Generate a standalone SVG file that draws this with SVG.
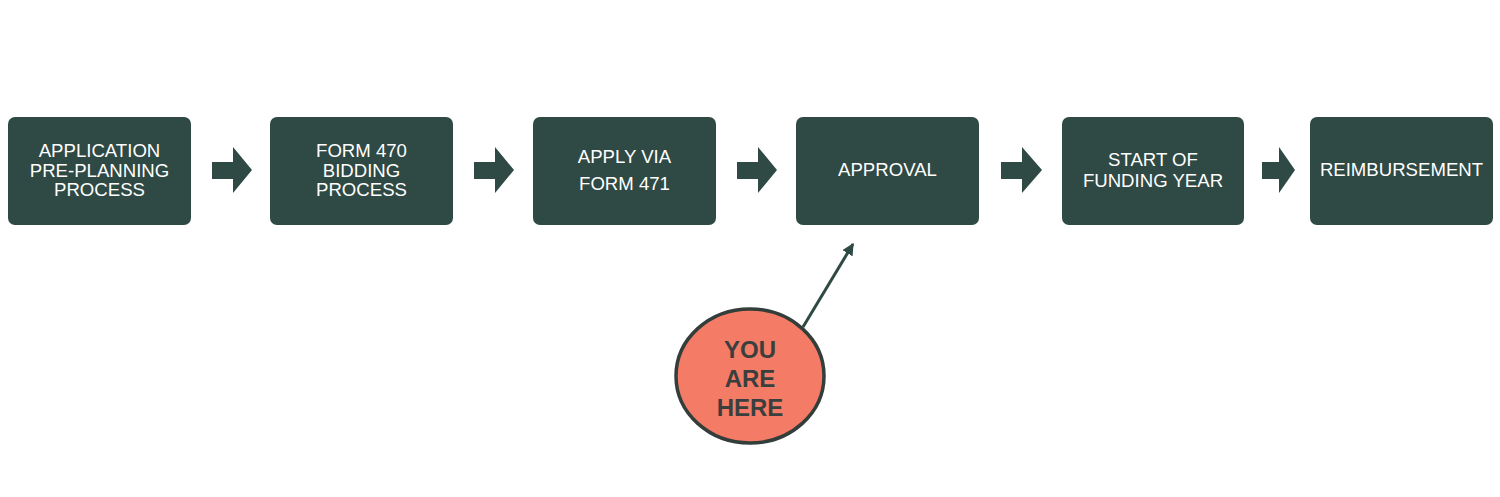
<svg xmlns="http://www.w3.org/2000/svg" width="1500" height="497" viewBox="0 0 1500 497">
<style>
.box{fill:#2f4944;}
.t{font-family:"Liberation Sans",Arial,sans-serif;font-size:18.6px;fill:#ffffff;text-anchor:middle;}
.blk{fill:#2f4944;}
.y{font-family:"Liberation Sans",Arial,sans-serif;font-size:24px;font-weight:bold;fill:#3a3f3d;text-anchor:middle;}
</style>
<defs>
<marker id="ah" viewBox="0 0 10 10" refX="9" refY="5" markerWidth="4" markerHeight="4" orient="auto"><path d="M0,0 L10,5 L0,10 z" fill="#2f4944"/></marker>
</defs>
<rect width="1500" height="497" fill="#ffffff"/>
<g id="n1"><rect class="box" x="8" y="117" width="183" height="108" rx="7"/>
<text class="t" x="99.5" y="157">APPLICATION</text><text class="t" x="99.5" y="177">PRE-PLANNING</text><text class="t" x="99.5" y="196">PROCESS</text></g>
<g id="n2"><rect class="box" x="270" y="117" width="183" height="108" rx="7"/>
<text class="t" x="361.5" y="157">FORM 470</text><text class="t" x="361.5" y="177">BIDDING</text><text class="t" x="361.5" y="196">PROCESS</text></g>
<g id="n3"><rect class="box" x="533" y="117" width="183" height="108" rx="7"/>
<text class="t" x="624.5" y="163">APPLY VIA</text><text class="t" x="624.5" y="190">FORM 471</text></g>
<g id="n4"><rect class="box" x="796" y="117" width="183" height="108" rx="7"/>
<text class="t" x="887.5" y="176">APPROVAL</text></g>
<g id="n5"><rect class="box" x="1062" y="117" width="182" height="108" rx="7"/>
<text class="t" x="1153" y="166">START OF</text><text class="t" x="1153" y="187">FUNDING YEAR</text></g>
<g id="n6"><rect class="box" x="1310" y="117" width="183" height="108" rx="7"/>
<text class="t" x="1401.5" y="176">REIMBURSEMENT</text></g>
<g id="connectors">
<path class="blk" d="M212,162 H233 V147 L252,170 L233,193 V179 H212 Z"/>
<path class="blk" d="M474,162 H495 V147 L514,170 L495,193 V179 H474 Z"/>
<path class="blk" d="M737,162 H758 V147 L777,170 L758,193 V179 H737 Z"/>
<path class="blk" d="M1001,162 H1022 V147 L1042,170 L1022,193 V179 H1001 Z"/>
<path class="blk" d="M1262,162 H1279 V147 L1295,170 L1279,193 V179 H1262 Z"/>
<line x1="803" y1="327" x2="853" y2="244" stroke="#2f4944" stroke-width="3" marker-end="url(#ah)"/>
</g>
<g id="you">
<ellipse cx="750" cy="376" rx="74" ry="67" fill="#f47b66" stroke="#333d3a" stroke-width="3.5"/>
<text class="y" x="750" y="358">YOU</text><text class="y" x="750" y="387">ARE</text><text class="y" x="750" y="416">HERE</text>
</g>
</svg>
